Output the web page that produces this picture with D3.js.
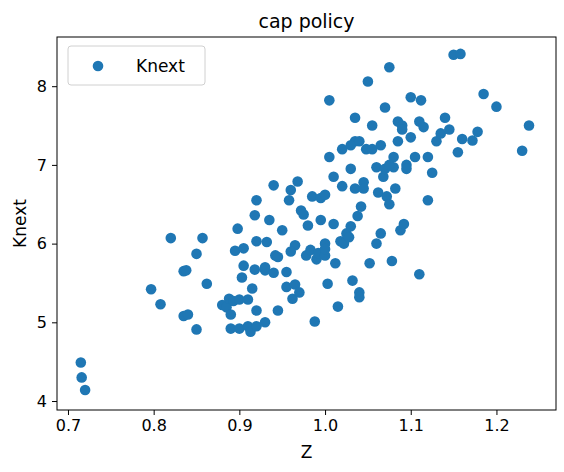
<!DOCTYPE html>
<html><head><meta charset="utf-8">
<script src="https://cdn.jsdelivr.net/npm/d3@7"></script>
<style>body{margin:0;background:#fff}svg{font-family:"DejaVu Sans",sans-serif}</style>
</head><body><svg id="c" width="564" height="472"></svg>
<script>
const title = "cap policy";
const xLabel = "Z", yLabel = "Knext", seriesName = "Knext";
const xTicks = [0.7,0.8,0.9,1.0,1.1,1.2];
const yTicks = [4,5,6,7,8];
const zValues = [0.715,0.716,0.72,0.797,0.808,0.82,0.835,0.838,0.835,0.84,0.85,0.85,0.857,0.862,0.88,0.885,0.888,0.89,0.89,0.893,0.895,0.898,0.9,0.9,0.903,0.905,0.905,0.91,0.91,0.913,0.915,0.918,0.918,0.92,0.92,0.92,0.92,0.93,0.93,0.932,0.935,0.94,0.94,0.942,0.945,0.945,0.95,0.955,0.955,0.958,0.96,0.962,0.965,0.965,0.968,0.97,0.972,0.975,0.978,0.98,0.983,0.985,0.988,0.99,0.992,0.995,0.995,1.0,1.0,1.0,1.003,1.005,1.005,1.01,1.012,1.015,1.018,1.02,1.02,1.022,1.025,1.028,1.03,1.03,1.032,1.035,1.035,1.035,1.038,1.04,1.04,1.042,1.045,1.048,1.05,1.052,1.055,1.06,1.062,1.065,1.068,1.07,1.07,1.072,1.075,1.075,1.078,1.08,1.08,1.082,1.085,1.085,1.088,1.09,1.092,1.095,1.095,1.1,1.1,1.105,1.11,1.11,1.112,1.115,1.12,1.12,1.125,1.13,1.135,1.14,1.145,1.15,1.155,1.158,1.16,1.172,1.178,1.185,1.2,1.23,1.238,1.0,1.01,1.03,1.04,1.055,1.06,1.065,1.09,1.075,0.96,1.045,0.93];
const knextValues = [4.49,4.30,4.14,5.42,5.23,6.07,5.65,5.66,5.08,5.10,4.91,5.87,6.07,5.49,5.22,5.19,5.30,5.10,4.92,5.27,5.91,6.19,5.29,4.92,5.57,5.94,5.72,5.29,4.95,4.88,5.43,5.67,6.36,6.03,6.55,4.95,5.15,5.0,5.66,6.02,6.3,6.74,5.63,5.85,5.83,5.15,6.17,5.64,5.45,6.55,6.68,5.3,5.48,5.98,6.79,5.38,6.42,6.37,5.85,6.23,5.92,6.6,5.01,5.8,5.88,6.58,6.3,6.0,5.85,5.93,5.49,7.82,7.1,6.25,5.75,5.2,6.03,7.2,6.73,6.0,6.13,6.08,6.22,6.95,5.53,6.7,7.6,7.3,6.35,5.38,5.32,6.47,6.78,7.2,8.06,5.75,7.5,6.97,6.65,6.13,6.85,7.73,6.95,6.6,6.5,8.24,5.78,7.1,6.97,6.7,7.3,7.55,6.17,7.5,6.25,7.0,6.95,7.86,7.35,7.1,7.55,5.61,7.82,7.48,6.55,7.1,6.9,7.3,7.4,7.6,7.45,8.4,7.16,8.41,7.33,7.31,7.42,7.9,7.74,7.18,7.5,6.62,6.85,7.25,7.3,7.2,6.0,7.25,7.45,7.0,5.9,6.7,5.7];

const svg = d3.select("#c");
const L=57,R=556,T=37,B=410;
const x = d3.scaleLinear().domain([0.6872,1.2695]).range([L,R]);
const y = d3.scaleLinear().domain([3.886,8.625]).range([B,T]);
const color="#1f77b4";

svg.append("g").selectAll("circle").data(zValues.map((z,i)=>[z,knextValues[i]]))
  .join("circle").attr("cx",d=>x(d[0])).attr("cy",d=>y(d[1])).attr("r",5.3).attr("fill",color);

const xa = svg.append("g").attr("transform",`translate(0,${B})`)
  .call(d3.axisBottom(x).tickValues(xTicks).tickFormat(d3.format(".1f")).tickSizeOuter(0).tickSize(5).tickPadding(5));
const ya = svg.append("g").attr("transform",`translate(${L},0)`)
  .call(d3.axisLeft(y).tickValues(yTicks).tickFormat(d3.format("d")).tickSizeOuter(0).tickSize(5).tickPadding(5));
[xa,ya].forEach(a=>{a.select(".domain").remove();a.selectAll("text").attr("font-size",16).attr("fill","#000").attr("font-family","DejaVu Sans");a.selectAll("line").attr("stroke","#000");});
svg.append("rect").attr("x",L).attr("y",T).attr("width",R-L).attr("height",B-T).attr("fill","none").attr("stroke","#000").attr("stroke-width",1);

svg.append("text").attr("x",(L+R)/2).attr("y",28).attr("text-anchor","middle").attr("font-size",19).text(title);
svg.append("text").attr("x",(L+R)/2).attr("y",458).attr("text-anchor","middle").attr("font-size",17).text(xLabel);
svg.append("text").attr("transform",`translate(26,${(T+B)/2}) rotate(-90)`).attr("text-anchor","middle").attr("font-size",17).text(yLabel);

const lg=svg.append("g");
lg.append("rect").attr("x",68).attr("y",46).attr("width",137).attr("height",39).attr("rx",3).attr("fill","#fff").attr("stroke","#ccc").attr("opacity",0.9);
lg.append("circle").attr("cx",98).attr("cy",66).attr("r",5.3).attr("fill",color);
lg.append("text").attr("x",136).attr("y",72).attr("font-size",17).text(seriesName);
</script></body></html>
